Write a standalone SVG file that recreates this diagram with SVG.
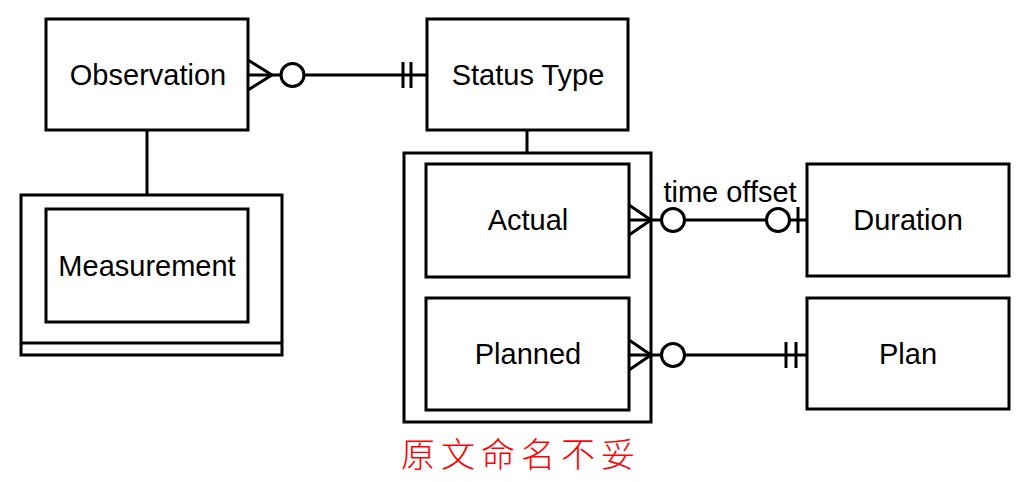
<svg xmlns="http://www.w3.org/2000/svg" width="1029" height="482" viewBox="0 0 1029 482">
<style>
.box{fill:none;stroke:#000;stroke-width:3}
.ln{fill:none;stroke:#000;stroke-width:3}
.circ{fill:#fff;stroke:#000;stroke-width:3}
.lbl{font-family:"Liberation Sans",Arial,sans-serif;font-size:29px;fill:#000;text-anchor:middle}
.note{font-family:"Noto Sans CJK SC",sans-serif;font-size:34px;font-weight:300;fill:#ff0000;letter-spacing:6px}
</style>
<rect width="1029" height="482" fill="#fff"/>
<g id="connectors">
<line class="ln" x1="147" y1="130" x2="147" y2="195"/>
<line class="ln" x1="527" y1="130" x2="527" y2="153"/>
<!-- Observation - Status Type -->
<line class="ln" x1="248" y1="75" x2="427" y2="75"/>
<polyline class="ln" points="248,60 272,75 248,90"/>
<circle class="circ" cx="292.5" cy="75" r="11.5"/>
<line class="ln" x1="403" y1="62" x2="403" y2="88"/>
<line class="ln" x1="411" y1="62" x2="411" y2="88"/>
<!-- Actual - Duration -->
<line class="ln" x1="629" y1="220" x2="807" y2="220"/>
<polyline class="ln" points="629,205 651,220 629,235"/>
<circle class="circ" cx="673" cy="220" r="11.5"/>
<circle class="circ" cx="778" cy="220" r="11.5"/>
<line class="ln" x1="798" y1="207" x2="798" y2="233"/>
<text class="lbl" x="730" y="202">time offset</text>
<!-- Planned - Plan -->
<line class="ln" x1="629" y1="355" x2="807" y2="355"/>
<polyline class="ln" points="629,340 651,355 629,370"/>
<circle class="circ" cx="673" cy="355" r="11.5"/>
<line class="ln" x1="786" y1="342" x2="786" y2="368"/>
<line class="ln" x1="796" y1="342" x2="796" y2="368"/>
</g>
<g id="observation">
<rect class="box" x="46" y="19" width="202" height="111"/>
<text class="lbl" x="148" y="85">Observation</text>
</g>
<g id="measurement-group">
<rect class="box" x="21" y="195" width="261" height="160"/>
<line class="ln" x1="21" y1="343" x2="282" y2="343"/>
</g>
<g id="measurement">
<rect class="box" x="46" y="209" width="202" height="113"/>
<text class="lbl" x="147" y="276">Measurement</text>
</g>
<g id="status-type">
<rect class="box" x="427" y="19" width="201" height="111"/>
<text class="lbl" x="528" y="85">Status Type</text>
</g>
<g id="status-group">
<rect class="box" x="404" y="153" width="247" height="269"/>
</g>
<g id="actual">
<rect class="box" x="426" y="164" width="203" height="113"/>
<text class="lbl" x="528" y="230">Actual</text>
</g>
<g id="planned">
<rect class="box" x="426" y="298" width="203" height="112"/>
<text class="lbl" x="528" y="364">Planned</text>
</g>
<g id="duration">
<rect class="box" x="807" y="164" width="202" height="112"/>
<text class="lbl" x="908" y="230">Duration</text>
</g>
<g id="plan">
<rect class="box" x="807" y="298" width="202" height="111"/>
<text class="lbl" x="908" y="364">Plan</text>
</g>
<text class="note" x="401" y="467">原文命名不妥</text>
</svg>
